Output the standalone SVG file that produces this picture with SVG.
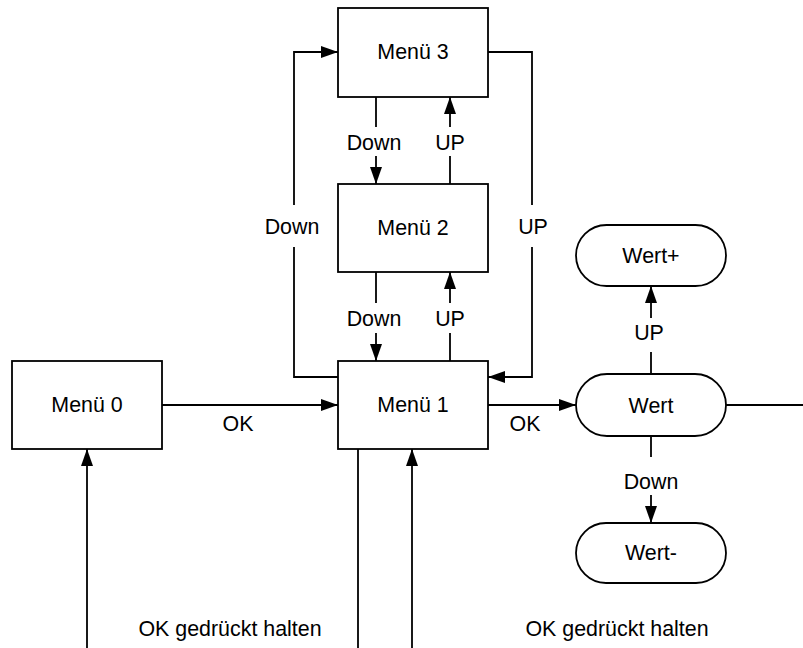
<svg xmlns="http://www.w3.org/2000/svg" width="803" height="648" viewBox="0 0 803 648">
<defs>
<marker id="arr" markerWidth="17" markerHeight="12" refX="17" refY="6" orient="auto" markerUnits="userSpaceOnUse">
<path d="M0,0 L17,6 L0,12 Z" fill="#000"/>
</marker>
<style>
.box{fill:#fff;stroke:#000;stroke-width:1.8}
.ln{fill:none;stroke:#000;stroke-width:1.8}
.t{font-family:"Liberation Sans",Arial,sans-serif;font-size:21.4px;fill:#000;text-anchor:middle}
</style>
</defs>
<rect width="803" height="648" fill="#fff"/>
<g id="connectors">
<path class="ln" d="M376,97 L376,127"/>
<path class="ln" d="M376,156 L376,184" marker-end="url(#arr)"/>
<text class="t" x="374" y="150">Down</text>
<path class="ln" d="M450,184 L450,156"/>
<path class="ln" d="M450,127 L450,97" marker-end="url(#arr)"/>
<text class="t" x="450" y="150">UP</text>
<path class="ln" d="M376,272 L376,303"/>
<path class="ln" d="M376,333 L376,361" marker-end="url(#arr)"/>
<text class="t" x="374" y="326">Down</text>
<path class="ln" d="M450,361 L450,333"/>
<path class="ln" d="M450,303 L450,272" marker-end="url(#arr)"/>
<text class="t" x="450" y="326">UP</text>
<path class="ln" d="M338,377 L294,377 L294,247"/>
<path class="ln" d="M294,205 L294,52 L338,52" marker-end="url(#arr)"/>
<text class="t" x="292" y="234">Down</text>
<path class="ln" d="M488,52 L532,52 L532,205"/>
<path class="ln" d="M532,247 L532,377 L488,377" marker-end="url(#arr)"/>
<text class="t" x="533" y="234">UP</text>
<path class="ln" d="M162,405 L338,405" marker-end="url(#arr)"/>
<text class="t" x="238" y="431">OK</text>
<path class="ln" d="M488,405 L576,405" marker-end="url(#arr)"/>
<text class="t" x="525" y="431">OK</text>
<path class="ln" d="M651,374 L651,352"/>
<path class="ln" d="M651,318 L651,286" marker-end="url(#arr)"/>
<text class="t" x="649" y="340">UP</text>
<path class="ln" d="M651,436 L651,457"/>
<path class="ln" d="M651,495 L651,523" marker-end="url(#arr)"/>
<text class="t" x="651" y="489">Down</text>
<path class="ln" d="M726,405 L803,405"/>
<path class="ln" d="M87,648 L87,449" marker-end="url(#arr)"/>
<text class="t" x="230" y="636">OK gedrückt halten</text>
<path class="ln" d="M358,449 L358,648"/>
<path class="ln" d="M412,648 L412,449" marker-end="url(#arr)"/>
<text class="t" x="617" y="636">OK gedrückt halten</text>
</g>
<g id="menu3">
<rect class="box" x="338" y="8" width="150" height="89"/>
<text class="t" x="413" y="59">Menü 3</text>
</g>
<g id="menu2">
<rect class="box" x="338" y="184" width="150" height="88"/>
<text class="t" x="413" y="235">Menü 2</text>
</g>
<g id="menu1">
<rect class="box" x="338" y="361" width="150" height="88"/>
<text class="t" x="413" y="412">Menü 1</text>
</g>
<g id="menu0">
<rect class="box" x="12" y="361" width="150" height="88"/>
<text class="t" x="87" y="412">Menü 0</text>
</g>
<g id="wertplus">
<rect class="box" x="576" y="225" width="150" height="61" rx="30.5"/>
<text class="t" x="651" y="263">Wert+</text>
</g>
<g id="wert">
<rect class="box" x="576" y="374" width="150" height="62" rx="31"/>
<text class="t" x="651" y="413">Wert</text>
</g>
<g id="wertminus">
<rect class="box" x="576" y="523" width="150" height="60" rx="30"/>
<text class="t" x="651" y="560">Wert-</text>
</g>
</svg>
